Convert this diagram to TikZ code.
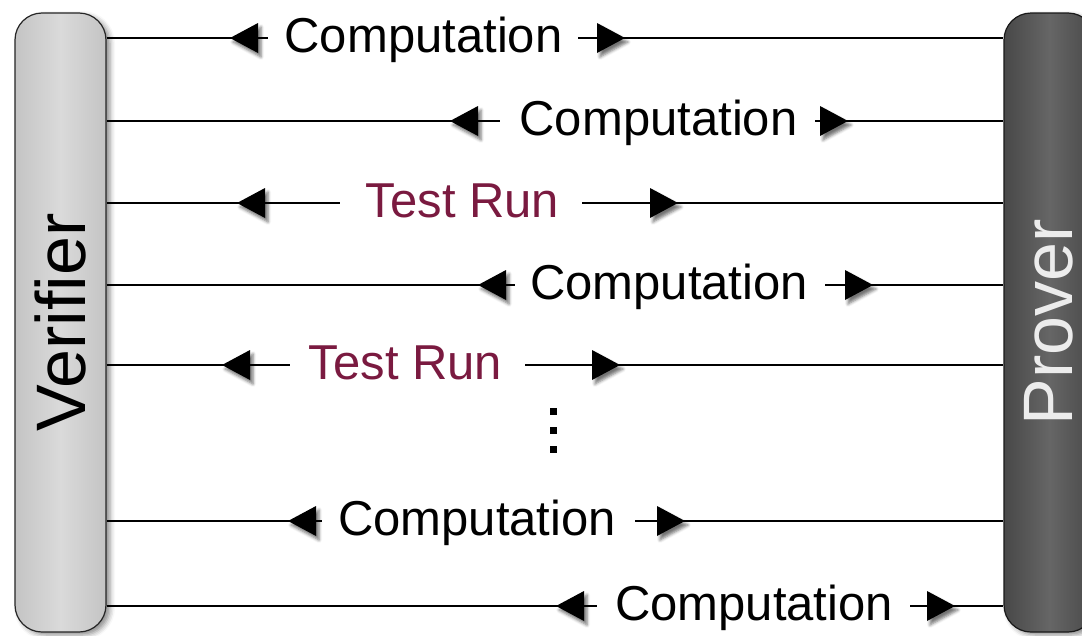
\documentclass[tikz,border=0pt]{standalone}
\usepackage{fontspec}
\setmainfont{Liberation Sans}
\usetikzlibrary{shadows.blur}

\definecolor{testrun}{RGB}{122,26,64}
\definecolor{vedge}{RGB}{196,196,196}
\definecolor{vmid}{RGB}{218,218,218}
\definecolor{pedge}{RGB}{72,72,72}
\definecolor{pmid}{RGB}{102,102,102}
\definecolor{plabel}{RGB}{236,236,236}

\tikzset{
  softshadow/.style={blur shadow={shadow xshift=4pt, shadow yshift=-3pt,
      shadow blur radius=5pt, shadow opacity=45}},
  bar/.style={draw=#1, line width=1.2pt, rounded corners=27pt,
      minimum width=91pt, minimum height=619pt, inner sep=0pt, softshadow},
  barlabel/.style={rotate=90, inner sep=0pt, font=\fontsize{70}{70}\selectfont},
  msg/.style={inner sep=0pt, anchor=base, font=\fontsize{49}{50}\selectfont},
  wire/.style={line width=1.8pt, black},
  headshadow/.style={blur shadow={shadow xshift=3pt, shadow yshift=-4pt,
      shadow blur radius=3pt, shadow opacity=55}},
  headL/.pic={\fill[black, headshadow] (0,0) -- (28,-15) -- (28,15) -- cycle;},
  headR/.pic={\fill[black, headshadow] (0,0) -- (-28,-15) -- (-28,15) -- cycle;},
}

\begin{document}
\begin{tikzpicture}[x=1pt, y=-1pt]
  \useasboundingbox (0,0) rectangle (1082,635);
  \clip (0,0) rectangle (1082,635);

  % the two parties
  \node[bar=black!85, left color=vedge, right color=vedge, middle color=vmid]
    (V) at (60.5,322.5) {};
  \node[bar=black!90, left color=pedge, right color=pedge, middle color=pmid]
    (P) at (1049.5,322.5) {};
  \node[barlabel] (Vlab) at (60,322.5) {Verifier};
  \node[barlabel, text=plabel] (Plab) at (1049,322.5) {Prover};

  % exchanged messages: name / y / left tip / left stub end / label centre /
  % right stub start / right tip / text / colour
  \foreach \n/\y/\tl/\sl/\cx/\sr/\tr/\txt/\col in {
      1/38/230/268/423.5/578/625/Computation/black,
      2/121/450/500/658.5/815/848/Computation/black,
      3/203/237/340/462.5/582/678/Test Run/testrun,
      4/285/478/515/669/825/873/Computation/black,
      5/365/222/290/405.5/525/620/Test Run/testrun,
      6/521/288/322/477/635/685/Computation/black,
      7/606/556/597/754/910/955/Computation/black} {
    \coordinate (tl\n) at (\tl,\y);
    \coordinate (sl\n) at (\sl,\y);
    \coordinate (sr\n) at (\sr,\y);
    \coordinate (tr\n) at (\tr,\y);
    \node[msg, text=\col] (m\n) at (\cx,\y+14) {\txt};
    \draw[wire] (V.east |- tl\n) -- (sl\n);
    \draw[wire] (sr\n) -- (P.west |- tr\n);
    \pic at (tl\n) {headL};
    \pic at (tr\n) {headR};
  }

  % vertical ellipsis
  \foreach \d in {411,430,449}
    \fill[black] (549.5,\d-3.5) rectangle (556.5,\d+3.5);
\end{tikzpicture}
\end{document}
